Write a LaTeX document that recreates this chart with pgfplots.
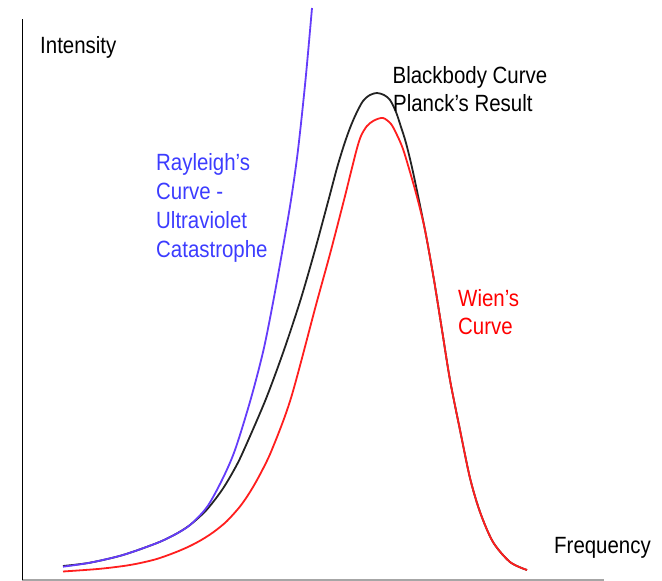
\documentclass[border=0pt]{standalone}
\usepackage{pgfplots}
\pgfplotsset{compat=1.18}
\usepackage{fontspec}
\setmainfont[FakeStretch=0.87]{Liberation Sans}
\definecolor{cblue}{RGB}{100,60,250}
\definecolor{tblue}{RGB}{60,60,255}
\definecolor{cred}{RGB}{255,30,30}
\definecolor{tred}{RGB}{255,0,0}
\definecolor{cblack}{RGB}{35,35,35}
\tikzset{lbl/.style={anchor=base west, inner sep=0pt, font=\fontsize{23.5}{28}\selectfont}}
\begin{document}
\begin{tikzpicture}
\begin{axis}[x=1pt,y=1pt,xmin=22.5,xmax=604,ymin=1,ymax=562,
  axis lines*=left, xtick=\empty, ytick=\empty, clip=false,
  x axis line style={draw=gray!70,line width=1.4pt},
  y axis line style={draw=black,line width=1.3pt}]
% Planck (blackbody)
\addplot[cblack, line width=1.8pt, no markers, smooth] coordinates {
(63,15) (90,18.3) (123,26) (157,38) (175,46.5) (190,56) (206.5,71) (222,91) (234,111)
(243,129) (265.5,181) (284,231) (300.5,281) (315,331) (328.5,381) (337,413)
(344,436) (350,453) (356,467) (363,480) (370,486) (377,488) (384,486)
(390,481) (396,469) (401,454) (406,438) (413,409) (425,351) (434,301)
(442,251) (450,201) (460,151) (470,103) (480,69) (493,39) (510,19) (527,11)};
% Wien
\addplot[cred, line width=1.8pt, no markers, smooth] coordinates {
(63,9.5) (100,12.2) (130,16) (155,21.5) (175,28.5) (190,35) (203,42) (215,50)
(227,60) (240,74.5) (250,89) (260,106.5) (272,131.5) (291,183) (316,276)
(330,327) (344,381) (356,429) (361,445) (367,455) (374,460.5) (383,463)
(391,457) (397,446) (403,432) (410,409) (417,384) (425,351) (434,301)
(442,251) (450,201) (460,151) (470,103) (480,69) (493,39) (510,19) (527,11)};
% Rayleigh-Jeans
\addplot[cblue, line width=1.8pt, no markers, smooth] coordinates {
(63,14.3) (90,18.3) (123,26) (157,38) (175,46.5) (190,56) (207,74) (222,101) (235,131)
(250.5,181) (263.5,231) (273.5,281) (282.5,331) (291,381) (298,431)
(305.5,501) (312,573)};
\node[lbl] at (axis cs:40,527.5) {Intensity};
\node[lbl] at (axis cs:554,27) {Frequency};
\node[lbl] at (axis cs:392.5,497) {Blackbody Curve};
\node[lbl] at (axis cs:393,469.3) {Planck’s Result};
\node[lbl, text=tblue] at (axis cs:156,410.3) {Rayleigh’s};
\node[lbl, text=tblue] at (axis cs:156,381) {Curve -};
\node[lbl, text=tblue] at (axis cs:156,352) {Ultraviolet};
\node[lbl, text=tblue] at (axis cs:156,323) {Catastrophe};
\node[lbl, text=tred] at (axis cs:458,274.3) {Wien’s};
\node[lbl, text=tred] at (axis cs:458,246) {Curve};
\coordinate (BL) at (axis cs:0,0);
\coordinate (TR) at (axis cs:662,581);
\end{axis}
\pgfresetboundingbox
\path (BL) rectangle (TR);
\end{tikzpicture}
\end{document}
